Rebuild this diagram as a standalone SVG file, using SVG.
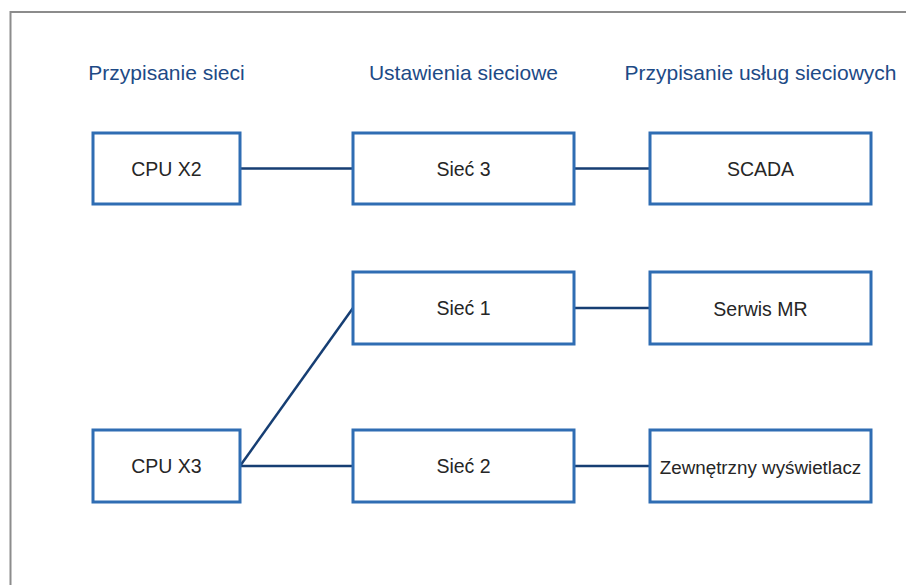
<svg xmlns="http://www.w3.org/2000/svg" width="906" height="585" viewBox="0 0 906 585">
<style>
.hdr{font-family:"Liberation Sans",Arial,sans-serif;font-size:21px;fill:#1d4a86;text-anchor:middle}
.box rect{fill:#fff;stroke:#2f6db3;stroke-width:3}
.box text{font-family:"Liberation Sans",Arial,sans-serif;font-size:19.5px;fill:#262626;text-anchor:middle}
.conn line{stroke:#163e73;stroke-width:2.5;fill:none}
</style>
<rect width="906" height="585" fill="#fff"/>
<path d="M10.5 585 V12 H906" fill="none" stroke="#8c8c8c" stroke-width="2"/>
<text class="hdr" x="166.5" y="80">Przypisanie sieci</text>
<text class="hdr" x="463.5" y="80">Ustawienia sieciowe</text>
<text class="hdr" x="760.5" y="80">Przypisanie usług sieciowych</text>
<g id="connectors" class="conn">
<line x1="240" y1="168.5" x2="353" y2="168.5"/>
<line x1="574" y1="168.5" x2="650" y2="168.5"/>
<line x1="574" y1="308" x2="650" y2="308"/>
<line x1="240" y1="466" x2="353" y2="308"/>
<line x1="240" y1="466" x2="353" y2="466"/>
<line x1="574" y1="466" x2="650" y2="466"/>
</g>
<g id="cpu-x2" class="box"><rect x="93" y="133" width="147" height="71"/><text x="166.5" y="176">CPU X2</text></g>
<g id="siec-3" class="box"><rect x="353" y="133" width="221" height="71"/><text x="463.5" y="176">Sieć 3</text></g>
<g id="scada" class="box"><rect x="650" y="133" width="221" height="71"/><text x="760.5" y="176">SCADA</text></g>
<g id="siec-1" class="box"><rect x="353" y="272" width="221" height="72"/><text x="463.5" y="315">Sieć 1</text></g>
<g id="serwis-mr" class="box"><rect x="650" y="272" width="221" height="72"/><text x="760.5" y="316">Serwis MR</text></g>
<g id="cpu-x3" class="box"><rect x="93" y="430" width="147" height="72"/><text x="166.5" y="473">CPU X3</text></g>
<g id="siec-2" class="box"><rect x="353" y="430" width="221" height="72"/><text x="463.5" y="473">Sieć 2</text></g>
<g id="zewnetrzny" class="box"><rect x="650" y="430" width="221" height="72"/><text x="760.5" y="474" style="font-size:18.8px">Zewnętrzny wyświetlacz</text></g>
</svg>
